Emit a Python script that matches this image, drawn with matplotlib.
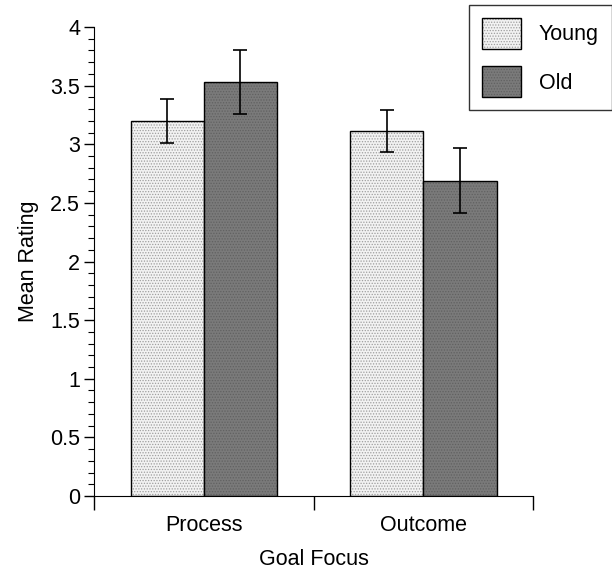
import matplotlib.pyplot as plt
from matplotlib.ticker import MultipleLocator

plt.rcParams['font.family'] = ['Liberation Sans', 'DejaVu Sans']
plt.rcParams['hatch.linewidth'] = 0.6

groups = ["Process", "Outcome"]
young = [3.20, 3.11]
young_err = [0.19, 0.18]
old = [3.53, 2.69]
old_err = [0.27, 0.28]

fig = plt.figure(figsize=(6.12, 5.69), dpi=100)
ax = fig.add_axes([0.1536, 0.1283, 0.7176, 0.8242])

centers = [0.5, 1.5]
w = 1 / 3
xy = [c - w / 2 for c in centers]
xo = [c + w / 2 for c in centers]

ax.bar(xy, young, w, color="#f2f2f2", edgecolor="black", linewidth=1,
       hatch="......", label="Young")
ax.bar(xo, old, w, color="#7a7a7a", edgecolor="black", linewidth=1,
       hatch="......", label="Old")
# hatch colour follows edgecolor, so set it per patch
for p in ax.patches[:2]:
    p._hatch_color = (0.62, 0.62, 0.62, 1)
for p in ax.patches[2:]:
    p._hatch_color = (0.38, 0.38, 0.38, 1)

ax.errorbar(xy, young, yerr=young_err, fmt="none", ecolor="black",
            elinewidth=1.2, capsize=5, capthick=1.2)
ax.errorbar(xo, old, yerr=old_err, fmt="none", ecolor="black",
            elinewidth=1.2, capsize=5, capthick=1.2)

ax.set_xlim(0, 2)
ax.set_ylim(0, 4)
ax.spines["top"].set_visible(False)
ax.spines["right"].set_visible(False)

ax.set_xticks([0, 1, 2])
ax.set_xticklabels([])
ax.set_xticks(centers, minor=True)
ax.set_xticklabels(groups, minor=True, fontsize=15.5)
ax.tick_params(axis="x", which="major", length=10, width=1, direction="out")
ax.tick_params(axis="x", which="minor", length=0, pad=14)

ax.yaxis.set_minor_locator(MultipleLocator(0.1))
ax.set_yticks([0, 0.5, 1, 1.5, 2, 2.5, 3, 3.5, 4])
ax.set_yticklabels(["0", "0.5", "1", "1.5", "2", "2.5", "3", "3.5", "4"], fontsize=15.5)
ax.tick_params(axis="y", which="major", length=7, width=1, pad=3)
ax.tick_params(axis="y", which="minor", length=4, width=0.8)

ax.set_xlabel("Goal Focus", fontsize=15.5, labelpad=9)
ax.set_ylabel("Mean Rating", fontsize=15.5, labelpad=8)

leg = ax.legend(loc="upper left", bbox_to_anchor=(0.854, 1.047), frameon=True,
                fancybox=False, edgecolor="black", fontsize=15.5,
                handlelength=1.8, handleheight=1.85, labelspacing=0.8,
                handletextpad=0.85, borderpad=0.6, borderaxespad=0)
leg.get_frame().set_linewidth(1)

fig.savefig("out.png", dpi=100)
